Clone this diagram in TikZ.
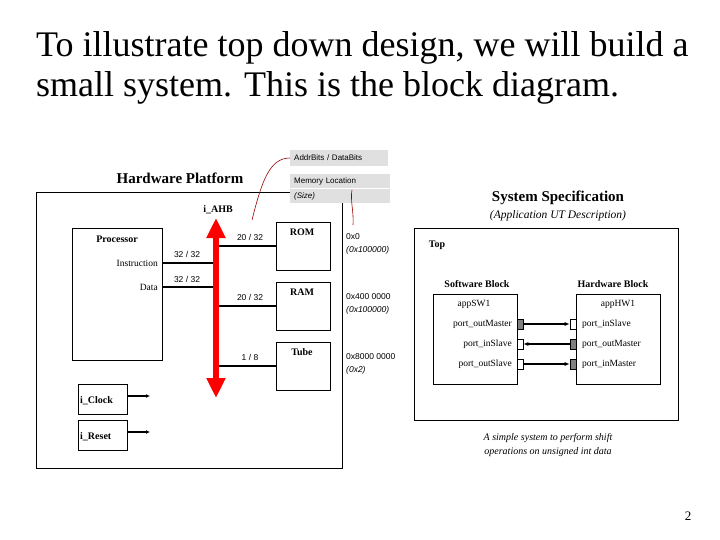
\documentclass[tikz,border=0pt]{standalone}
\usepackage{fontspec}
\setmainfont{Liberation Serif}
\setsansfont{Liberation Sans}
\usetikzlibrary{arrows.meta}
\begin{document}
\begin{tikzpicture}[x=1pt,y=-1pt,
  box/.style={draw,line width=0.8pt},
  sm/.style={font=\sffamily\fontsize{8.5}{9}\selectfont,inner sep=0pt},
  bl/.style={font=\bfseries\fontsize{10}{11}\selectfont,inner sep=0pt},
  rm/.style={font=\fontsize{9.5}{10}\selectfont,inner sep=0pt},
  wire/.style={line width=1.2pt},
  port/.style={draw,line width=0.6pt,minimum width=6pt,minimum height=10pt,inner sep=0pt},
  gl/.style={fill=black!12,font=\sffamily\fontsize{8}{9}\selectfont,anchor=west,inner sep=0pt}]
\useasboundingbox (0,0) rectangle (720,540);
% title
\node[anchor=north west,align=left,inner sep=0pt,font=\fontsize{36}{40}\selectfont] (title) at (36,31) {To illustrate top down design, we will build a\\small system. This is the block diagram.};
% hardware platform
\node[font=\bfseries\fontsize{15}{17}\selectfont] (hp) at (180,178) {Hardware Platform};
\draw[box] (36,192) rectangle (342,468);
\node[box,minimum width=90pt,minimum height=132pt,anchor=north west,inner sep=0pt] (proc) at (72,228) {};
\node[bl] (proct) at (117,239) {Processor};
\node[rm,anchor=east] (instr) at (158,263) {Instruction};
\node[rm,anchor=east] (data) at (158,287) {Data};
\coordinate (ai) at (213,263); \coordinate (ad) at (213,287);
\draw[wire] (162,263) -- (ai);
\draw[wire] (162,287) -- (ad);
\node[sm] (l1) at (187,254) {32 / 32};
\node[sm] (l2) at (187,279) {32 / 32};
% bus
\coordinate (bt) at (216,218); \coordinate (bb) at (216,398);
\draw[red,line width=6pt,{Triangle[width=18pt,length=20pt]}-{Triangle[width=18pt,length=20pt]}] (bt) -- (bb);
\node[bl] (ahb) at (218,210) {i\_AHB};
% memories
\foreach \n/\t/\y/\lab/\addr/\sz in {rom/ROM/222/{20 {/} 32}/0x0/(0x100000),ram/RAM/282/{20 {/} 32}/{0x400 0000}/(0x100000),tube/Tube/342/{1 {/} 8}/{0x8000 0000}/(0x2)}{
  \node[box,minimum width=54pt,minimum height=48pt,anchor=north west,inner sep=0pt] (\n) at (276,\y) {};
  \node[bl] (\n t) at (302,\y+10) {\t};
  \draw[wire] (219,\y+24) -- (\n.west|-0,\y+24);
  \node[sm] (\n l) at (250,\y+15) {\lab};
  \node[sm,anchor=west] (\n a) at (346,\y+15) {\addr};
  \node[sm,anchor=west,font=\sffamily\itshape\fontsize{8.5}{9}\selectfont] (\n s) at (346,\y+28) {\sz};
}
% gray labels
\node[gl,minimum width=94pt,minimum height=16pt,text width=90pt,inner xsep=4pt] (ab) at (290,158) {AddrBits / DataBits};
\node[gl,minimum width=96pt,minimum height=14pt,text width=92pt,inner xsep=4pt] (ml) at (290,181) {Memory Location};
\node[gl,minimum width=96pt,minimum height=14pt,text width=92pt,inner xsep=4pt,font=\sffamily\itshape\fontsize{8}{9}\selectfont] (ms) at (290,196) {(Size)};
\draw[red!60!black,line width=0.6pt] (252,220) .. controls (262,180) and (270,158) .. (ab.west);
\draw[red!60!black,line width=0.6pt] (353,225) .. controls (354,212) and (350,200) .. (352,190);
% system spec
\node[font=\bfseries\fontsize{15}{17}\selectfont] (ss) at (558,198) {System Specification};
\node[font=\itshape\fontsize{11.5}{12}\selectfont] (ad2) at (558,216) {(Application UT Description)};
\draw[box] (414,228) rectangle (678,420);
\node[bl] (top) at (437,245) {Top};
\node[bl] (swb) at (477,284) {Software Block};
\node[bl] (hwb) at (613,284) {Hardware Block};
\node[box,minimum width=84pt,minimum height=90pt,anchor=north west,inner sep=0pt] (sw) at (433,294) {};
\node[box,minimum width=84pt,minimum height=90pt,anchor=north west,inner sep=0pt] (hw) at (576,294) {};
\node[rm] (appsw) at (474,304) {appSW1};
\node[rm] (apphw) at (618,304) {appHW1};
\node[rm,anchor=east] (s1) at (512,324) {port\_outMaster};
\node[rm,anchor=east] (s2) at (512,344) {port\_inSlave};
\node[rm,anchor=east] (s3) at (512,364) {port\_outSlave};
\node[rm,anchor=west] (h1) at (582,324) {port\_inSlave};
\node[rm,anchor=west] (h2) at (582,344) {port\_outMaster};
\node[rm,anchor=west] (h3) at (582,364) {port\_inMaster};
\node[port,fill=black!50] (ps1) at (520,324) {};
\node[port,fill=white] (ps2) at (520,344) {};
\node[port,fill=white] (ps3) at (520,364) {};
\node[port,fill=white] (ph1) at (573,324) {};
\node[port,fill=black!50] (ph2) at (573,344) {};
\node[port,fill=black!50] (ph3) at (573,364) {};
\draw[wire,-{Latex[length=5pt,width=4pt]}] (ps1) -- (ph1);
\draw[wire,-{Latex[length=5pt,width=4pt]}] (ph2) -- (ps2);
\draw[wire,-{Latex[length=5pt,width=4pt]}] (ps3) -- (ph3);
\node[align=center,font=\itshape\fontsize{10}{14}\selectfont] (cap) at (548,445) {A simple system to perform shift\\operations on unsigned int data};
% clock reset
\node[box,minimum width=49pt,minimum height=30pt,anchor=north west,inner sep=0pt] (clk) at (78,384) {};
\node[bl,anchor=west] (clkt) at (80,401) {i\_Clock};
\node[box,minimum width=49pt,minimum height=30pt,anchor=north west,inner sep=0pt] (rst) at (78,420) {};
\node[bl,anchor=west] (rstt) at (80,437) {i\_Reset};
\coordinate (ce) at (150,396); \coordinate (re) at (150,432);
\draw[wire,-{Latex[length=4pt,width=4pt]}] (clk.east|-ce) -- (ce);
\draw[wire,-{Latex[length=4pt,width=4pt]}] (rst.east|-re) -- (re);
\node[font=\fontsize{13}{14}\selectfont] (pg) at (688,516) {2};
\end{tikzpicture}
\end{document}
